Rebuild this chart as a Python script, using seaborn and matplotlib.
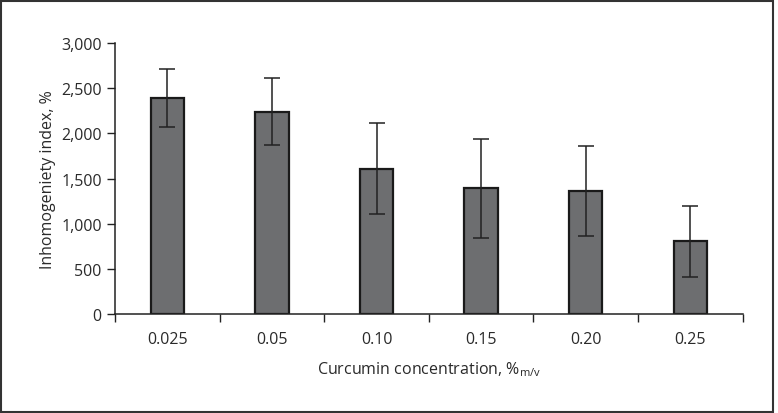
import matplotlib
matplotlib.use('Agg')
import matplotlib.pyplot as plt
import seaborn as sns
import pandas as pd
from matplotlib.ticker import FuncFormatter
from matplotlib.patches import Rectangle

# dados
concentracoes = ['0.025', '0.05', '0.10', '0.15', '0.20', '0.25']
indice = [2390, 2240, 1610, 1390, 1360, 805]
erro = [320, 370, 505, 550, 500, 395]

df = pd.DataFrame({'conc': concentracoes, 'indice': indice})

sns.set_style('white')
plt.rcParams['font.family'] = ['Open Sans', 'DejaVu Sans']
plt.rcParams['mathtext.fontset'] = 'custom'
plt.rcParams['mathtext.rm'] = 'Open Sans'

fig = plt.figure(figsize=(7.78, 4.14), dpi=100)
ax = fig.add_axes([0.1478, 0.2391, 0.8068, 0.6546])

sns.barplot(data=df, x='conc', y='indice', ax=ax, color='#6d6e70',
            edgecolor='#1a1a1a', linewidth=1.6, width=0.32,
            errorbar=None, saturation=1)
ax.errorbar(range(len(concentracoes)), indice, yerr=erro, fmt='none',
            ecolor='#222222', elinewidth=1.1, capsize=5.8, capthick=1.1)

ax.set_ylim(0, 3000)
ax.set_xlim(-0.5, len(concentracoes) - 0.5)
ax.set_yticks(range(0, 3001, 500))
ax.yaxis.set_major_formatter(FuncFormatter(lambda v, p: f'{v:,.0f}'))

# ticks do eixo x entre as categorias (estilo Excel)
ax.set_xticks([i - 0.5 for i in range(len(concentracoes) + 1)], minor=True)
ax.tick_params(axis='x', which='major', length=0, pad=12, labelsize=11.5, colors='#2a2a2a')
ax.tick_params(axis='x', which='minor', length=6, width=1, color='#222222', direction='out')
ax.tick_params(axis='y', length=6, width=1, color='#222222', direction='out',
               labelsize=11.5, colors='#2a2a2a', left=True)
ax.tick_params(axis='x', which='minor', bottom=True)

for s in ['top', 'right']:
    ax.spines[s].set_visible(False)
for s in ['left', 'bottom']:
    ax.spines[s].set_color('#222222')
    ax.spines[s].set_linewidth(1.1)

ax.set_xlabel(r'Curcumin concentration, %$_{\mathrm{m/v}}$', fontsize=11.5, color='#2a2a2a', labelpad=9)
ax.set_ylabel('Inhomogeniety index, %', fontsize=11.5, color='#2a2a2a', labelpad=4)

# moldura em volta da figura
fig.patches.append(Rectangle((1, 1), 772, 411, transform=None, fill=False,
                             edgecolor='#333333', linewidth=1.5))

fig.savefig('out.png', dpi=100)
